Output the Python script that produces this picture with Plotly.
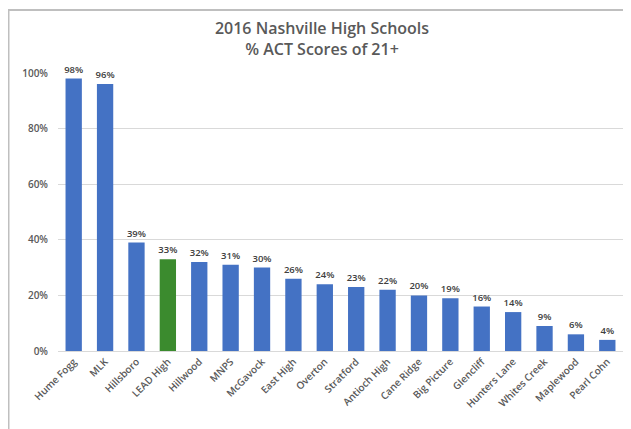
import plotly.graph_objects as go

schools = ["Hume Fogg", "MLK", "Hillsboro", "LEAD High", "Hillwood", "MNPS", "McGavock",
           "East High", "Overton", "Stratford", "Antioch High", "Cane Ridge", "Big Picture",
           "Glencliff", "Hunters Lane", "Whites Creek", "Maplewood", "Pearl Cohn"]
pct_21plus = [98, 96, 39, 33, 32, 31, 30, 26, 24, 23, 22, 20, 19, 16, 14, 9, 6, 4]
highlight = "LEAD High"

values = [v / 100 for v in pct_21plus]
colors = ["#3B8B2E" if s == highlight else "#4472C4" for s in schools]
labels = [f"{v}%" for v in pct_21plus]

# page has an 8px body margin; work in reference pixel coordinates and subtract it
OFF = 8
W, H = 631 - OFF, 429 - OFF
left_px, right_px, top_px, bottom_px = 58, 623, 73, 351
ml, mr = left_px - OFF, W - (right_px - OFF)
mt, mb = top_px - OFF, H - (bottom_px - OFF)
pw, ph = W - ml - mr, H - mt - mb

def px_x(p):
    return (p - OFF - ml) / pw

def px_y(p):
    return (H - mb - (p - OFF)) / ph

fig = go.Figure(go.Bar(
    x=schools, y=values, marker=dict(color=colors, line=dict(width=0)),
    width=0.52, text=labels, textposition="outside", cliponaxis=False,
    constraintext="none",
    textfont=dict(family="Open Sans", size=9.5, color="#404040", weight=600),
))

fig.update_layout(
    width=W, height=H,
    margin=dict(l=ml, r=mr, t=mt, b=mb),
    paper_bgcolor="white", plot_bgcolor="white",
    showlegend=False,
    title=dict(text="2016 Nashville High Schools<br>% ACT Scores of 21+",
               x=px_x(322), xref="paper", xanchor="center",
               y=1 - (34 - OFF) / H, yref="container", yanchor="middle",
               font=dict(family="Open Sans", size=16, color="#595959", weight=600)),
    font=dict(family="Open Sans", color="#595959"),
    xaxis=dict(tickangle=-45, tickfont=dict(size=10, color="#595959", weight=600),
               showline=True, linecolor="#D9D9D9", linewidth=1, ticks=""),
    yaxis=dict(range=[0, 1], tickvals=[0, 0.2, 0.4, 0.6, 0.8, 1.0],
               tickformat=".0%", tickfont=dict(size=10, color="#595959", weight=600),
               gridcolor="#D9D9D9", gridwidth=1, zeroline=False, ticks="",
               ticklen=0, ticklabelstandoff=9),
    shapes=[
        dict(type="line", xref="paper", yref="paper",
             x0=px_x(8), x1=px_x(660), y0=px_y(10), y1=px_y(10),
             line=dict(color="#BFBFBF", width=2)),
        dict(type="line", xref="paper", yref="paper",
             x0=px_x(8.5), x1=px_x(8.5), y0=px_y(10), y1=px_y(460),
             line=dict(color="#BFBFBF", width=2)),
    ],
)

fig.write_html("out.html")
